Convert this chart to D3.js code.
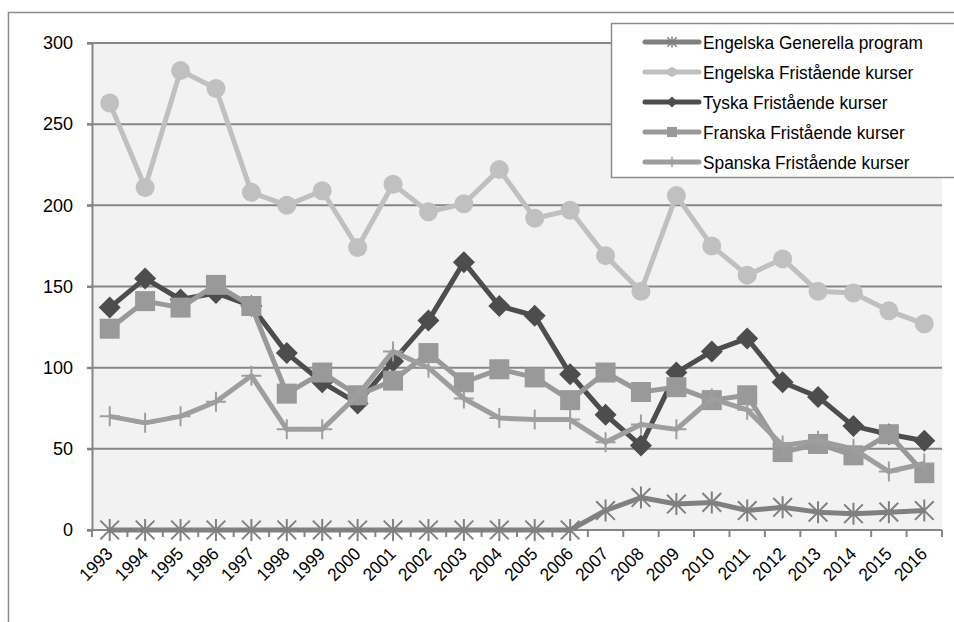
<!DOCTYPE html>
<html>
<head>
<meta charset="utf-8">
<script src="https://cdn.jsdelivr.net/npm/d3@7"></script>
<style>
  body { margin: 0; background: #fff; }
  svg text { font-family: "Liberation Sans Narrow", "Arial Narrow", "Liberation Sans", Arial, sans-serif; fill: #000; }
</style>
</head>
<body>
<div id="chart"></div>
<script>
// data
const years = ["1993","1994","1995","1996","1997","1998","1999","2000","2001","2002","2003","2004",
               "2005","2006","2007","2008","2009","2010","2011","2012","2013","2014","2015","2016"];
const yTicks = [0, 50, 100, 150, 200, 250, 300];

const engelskaGenerella = [0,0,0,0,0,0,0,0,0,0,0,0,0,0,12,20,16,17,12,14,11,10,11,12];
const engelskaFrist = [263,211,283,272,208,200,209,174,213,196,201,222,192,197,169,147,206,175,157,167,147,146,135,127];
const tyskaFrist = [137,155,142,146,138,109,91,78,104,129,165,138,132,96,71,52,97,110,118,91,82,64,59,55];
const franskaFrist = [124,141,137,151,138,84,97,83,92,109,91,99,94,80,97,85,88,80,83,48,53,46,59,35];
const spanskaFrist = [70,66,70,79,95,62,62,83,110,100,81,69,68,68,54,65,62,81,74,52,55,50,36,41];

const series = [
  {name: "Engelska Generella program", values: engelskaGenerella, color: "#808080", marker: "asterisk"},
  {name: "Engelska Fristående kurser", values: engelskaFrist, color: "#c0c0c0", marker: "circle"},
  {name: "Tyska Fristående kurser", values: tyskaFrist, color: "#4d4d4d", marker: "diamond"},
  {name: "Franska Fristående kurser", values: franskaFrist, color: "#999999", marker: "square"},
  {name: "Spanska Fristående kurser", values: spanskaFrist, color: "#9e9e9e", marker: "plus"}
];

const W = 954, H = 622;
const margin = {top: 43, right: 12, bottom: 92, left: 92};

const svg = d3.select("#chart").append("svg")
    .attr("width", W)
    .attr("height", H);

// outer chart border (runs off the right and bottom edge)
svg.append("rect")
    .attr("x", 8.5).attr("y", 12.5)
    .attr("width", W + 20).attr("height", H + 20)
    .attr("fill", "#fff")
    .attr("stroke", "#8c8c8c")
    .attr("stroke-width", 1.5);

const x = d3.scaleBand()
    .domain(years)
    .range([margin.left, W - margin.right])
    .padding(0);

const y = d3.scaleLinear()
    .domain([0, 300])
    .range([H - margin.bottom, margin.top]);

// plot background
svg.append("rect")
    .attr("x", x.range()[0]).attr("y", y(300))
    .attr("width", x.range()[1] - x.range()[0])
    .attr("height", y(0) - y(300))
    .attr("fill", "#f2f2f2");

// gridlines
svg.append("g")
    .selectAll("line")
    .data(yTicks.filter(d => d > 0))
    .enter()
    .append("line")
    .attr("x1", x.range()[0] - 5)
    .attr("x2", x.range()[1])
    .attr("y1", d => y(d))
    .attr("y2", d => y(d))
    .attr("stroke", "#868686")
    .attr("stroke-width", 2);

// Y axis
const yAxis = svg.append("g")
    .attr("transform", "translate(" + x.range()[0] + ",0)")
    .call(d3.axisLeft(y).tickValues(yTicks).tickSize(5).tickPadding(14));
yAxis.selectAll("path, line").attr("stroke", "#868686").attr("stroke-width", 2);
yAxis.selectAll("text").attr("font-size", 18).style("font-family", null);

// X axis line and ticks at category boundaries
const xg = svg.append("g");
xg.append("line")
    .attr("x1", x.range()[0] - 5).attr("x2", x.range()[1])
    .attr("y1", y(0)).attr("y2", y(0))
    .attr("stroke", "#868686").attr("stroke-width", 2);

const bounds = years.map(d => x(d)).concat([x.range()[1]]);
xg.selectAll(".xtick")
    .data(bounds)
    .enter()
    .append("line")
    .attr("x1", d => d).attr("x2", d => d)
    .attr("y1", y(0)).attr("y2", y(0) + 7)
    .attr("stroke", "#868686").attr("stroke-width", 2);

xg.selectAll(".xlabel")
    .data(years)
    .enter()
    .append("text")
    .attr("text-anchor", "end")
    .attr("font-size", 18)
    .attr("transform", d => "translate(" + (x(d) + x.bandwidth() / 2 + 4) + "," + (y(0) + 25) + ") rotate(-45) scale(0.95,1)")
    .text(d => d);

// ---------------------------//
//       MARKERS              //
// ---------------------------//
function markerPath(type, s) {
  // s = half size
  if (type === "circle") return d3.symbol(d3.symbolCircle, Math.PI * s * s)();
  if (type === "square") return d3.symbol(d3.symbolSquare, 4 * s * s)();
  if (type === "diamond") return "M0," + (-s) + "L" + s + ",0L0," + s + "L" + (-s) + ",0Z";
  if (type === "asterisk") {
    const a = s * 0.85;
    return "M" + (-a) + "," + (-a) + "L" + a + "," + a +
           "M" + (-a) + "," + a + "L" + a + "," + (-a) +
           "M0," + (-s) + "L0," + s;
  }
  if (type === "plus") return "M" + (-s) + ",0L" + s + ",0M0," + (-s) + "L0," + s;
}
const filled = {circle: true, square: true, diamond: true, asterisk: false, plus: false};
const markerSize = {circle: 9.5, square: 10, diamond: 11, asterisk: 11, plus: 10};

const line = d3.line()
    .x((d, i) => x(years[i]) + x.bandwidth() / 2)
    .y(d => y(d));

series.forEach(function(s) {
  const g = svg.append("g");
  g.append("path")
      .attr("d", line(s.values))
      .attr("fill", "none")
      .attr("stroke", s.color)
      .attr("stroke-width", 5)
      .attr("stroke-linejoin", "round");

  g.selectAll(".m")
      .data(s.values)
      .enter()
      .append("path")
      .attr("transform", (d, i) => "translate(" + (x(years[i]) + x.bandwidth() / 2) + "," + y(d) + ")")
      .attr("d", markerPath(s.marker, markerSize[s.marker]))
      .attr("fill", filled[s.marker] ? s.color : "none")
      .attr("stroke", s.color)
      .attr("stroke-width", filled[s.marker] ? 0 : 2);
});

// ---------------------------//
//       LEGEND              //
// ---------------------------//
const legend = svg.append("g");
legend.append("rect")
    .attr("x", 611.5).attr("y", 23.5)
    .attr("width", 360).attr("height", 154)
    .attr("fill", "#fff")
    .attr("stroke", "#8c8c8c")
    .attr("stroke-width", 1.5);

const legendRows = legend.selectAll(".row")
    .data(series)
    .enter()
    .append("g")
    .attr("transform", (d, i) => "translate(0," + (42 + i * 30) + ")");

legendRows.append("line")
    .attr("x1", 645).attr("x2", 699)
    .attr("y1", 0).attr("y2", 0)
    .attr("stroke", d => d.color)
    .attr("stroke-width", 5)
    .attr("stroke-linecap", "round");

legendRows.append("path")
    .attr("transform", "translate(672,0)")
    .attr("d", d => markerPath(d.marker, markerSize[d.marker] * 0.5))
    .attr("fill", d => filled[d.marker] ? d.color : "none")
    .attr("stroke", d => d.color)
    .attr("stroke-width", d => filled[d.marker] ? 0 : 1.5);

// text squeezed a little to mimic the narrow face of the original
legendRows.append("text")
    .attr("transform", "translate(703,0) scale(0.91,1)")
    .attr("dy", "0.35em")
    .attr("font-size", 19)
    .text(d => d.name);
</script>
</body>
</html>
